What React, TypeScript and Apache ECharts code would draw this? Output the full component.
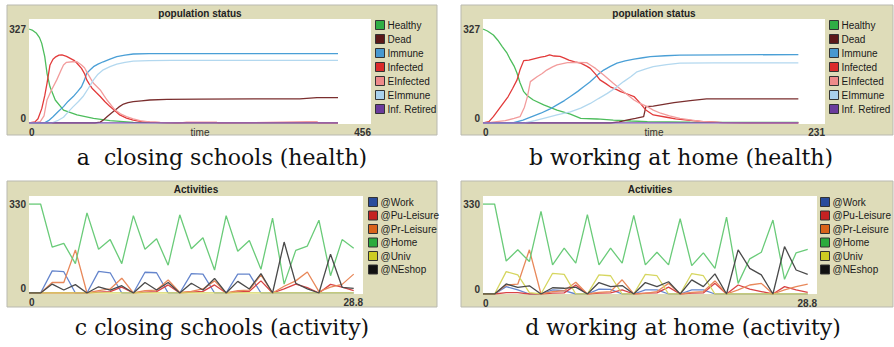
import React, { useEffect, useRef } from "react";
import * as echarts from "echarts";

// ---------- Panel a: closing schools (health), time 0..456 ----------
const healthyA = [[0,327],[5,322],[10,312],[14,297],[17,277],[21,231],[24,173],[28,126],[35,80],[46,45],[64,28],[86,16],[108,8],[139,2],[170,1],[200,0],[412,0]];
const deadA = [[0,0],[88,0],[95,3],[100,12],[104,22],[110,35],[115,45],[120,56],[126,66],[132,71],[139,74],[150,77],[161,80],[184,82],[228,83],[300,84],[361,84],[384,88],[412,88]];
const immuneA = [[0,0],[20,0],[26,8],[32,22],[39,40],[46,57],[52,75],[59,92],[65,110],[70,126],[74,150],[77,173],[82,186],[86,196],[92,205],[99,213],[108,222],[117,231],[128,236],[139,240],[160,241],[412,241]];
const infectedA = [[0,0],[8,4],[12,15],[17,50],[21,95],[24,138],[28,202],[32,222],[35,229],[40,236],[44,237],[50,232],[55,225],[60,218],[64,208],[70,190],[74,172],[77,150],[80,137],[84,121],[90,105],[95,92],[101,75],[108,57],[115,42],[121,28],[130,17],[139,10],[150,5],[161,3],[175,1],[200,0],[210,2],[250,2],[252,0],[370,3],[384,3],[386,0],[412,0]];
const einfectedA = [[0,0],[10,2],[15,5],[20,25],[24,80],[30,115],[37,150],[43,185],[46,202],[50,211],[58,213],[64,213],[70,202],[74,192],[77,178],[82,155],[86,138],[95,115],[100,95],[104,80],[110,60],[115,45],[122,32],[130,22],[139,14],[148,8],[160,4],[175,2],[200,0],[412,0]];
const eimmuneA = [[0,0],[30,0],[38,8],[46,20],[52,38],[59,57],[66,75],[72,92],[79,120],[86,150],[92,170],[99,185],[108,196],[117,205],[128,211],[139,215],[160,217],[190,218],[412,218]];
const retiredA = [[0,0],[412,0]];

// ---------- Panel b: working at home (health), time 0..231 ----------
const healthyB = [[0,327],[3,320],[7,306],[10,288],[13,266],[16,245],[18,225],[21,198],[23,173],[25,140],[27.5,109],[30,95],[34,80],[41,63],[50,45],[59,31],[66,16],[77,14],[88,10],[100,7],[111,5],[140,3],[213,2]];
const deadB = [[0,0],[86,0],[92,4],[97,10],[103,16],[108.5,22],[110,57],[115,59],[122,65],[129,71],[140,78],[151,84],[213,84]];
const immuneB = [[0,0],[20,0],[27,10],[33,22],[39,34],[45,48],[50,63],[55,78],[59,92],[64,110],[68,126],[72,142],[75,156],[78,170],[81.5,184],[86,197],[90.5,208],[96,216],[102,222],[108,227],[113,231],[123,234],[133,236],[163,237],[213,238]];
const infectedB = [[0,0],[4,5],[7,22],[12,57],[17,92],[20,120],[23,150],[25,185],[27.5,217],[31,219],[35,224],[39,229],[42,232],[45,237],[48,233],[52,232],[55,226],[58,219],[62,213],[66,208],[70,198],[72.5,190],[76,170],[79,150],[83,137],[86,126],[90,117],[93,109],[98,100],[102,92],[106,70],[110,45],[115,28],[124,20],[130,14],[138,10],[149,5],[162,1],[180,0],[213,0]];
const einfectedB = [[0,0],[5,2],[15,8],[21,16],[25,22],[28,55],[30,92],[32,144],[36.5,161],[40,172],[43,184],[47,195],[50,202],[57,210],[63,211],[70,210],[73,200],[76,190],[81.5,167],[88,138],[95,109],[102,80],[106,68],[111,57],[115,45],[120,34],[126,25],[133,16],[147,6],[160,1],[180,0],[213,0]];
const eimmuneB = [[0,0],[28,0],[35,8],[41,16],[50,28],[59,39],[66,52],[72.5,68],[78,85],[84,103],[90,124],[95,144],[100,162],[104,178],[110,188],[115,196],[124,203],[133,208],[156,209],[213,209]];
const retiredB = [[0,0],[213,0]];

// ---------- Panels c, d: activities, steps 0..28 ----------
const steps = [0,1,2,3,4,5,6,7,8,9,10,11,12,13,14,15,16,17,18,19,20,21,22,23,24,25,26,27,28];

const workC = [0,0,82,79,0,0,80,75,0,0,77,75,0,0,72,70,0,0,70,70,0,0,0,0,0,0,0,0,0];
const puLeisureC = [0,0,0,0,0,0,3,5,22,0,3,5,30,0,3,6,30,0,4,6,45,0,15,33,20,0,32,22,9];
const prLeisureC = [0,0,39,39,160,0,9,15,55,0,9,11,48,2,6,15,45,0,9,11,67,0,25,45,78,5,22,32,70];
const homeC = [330,330,170,184,109,297,162,198,109,287,162,201,103,290,164,205,85,287,155,195,88,278,33,158,174,270,64,198,166];
const univC = [0,0,0,0,0,0,0,0,0,0,0,0,0,0,0,0,0,0,0,0,0,0,0,0,0,0,0,0,0];
const neshopC = [0,0,33,11,31,0,23,11,27,0,39,11,39,0,36,11,54,0,43,15,72,0,189,36,15,0,144,21,17];

const workD = [0,0,27,15,0,0,15,12,0,0,18,17,0,0,15,15,0,0,15,15,0,0,0,0,0,0,0,0,0];
const puLeisureD = [0,0,5,5,0,0,3,4,33,0,3,4,15,0,3,4,25,0,3,4,39,0,33,18,9,0,27,15,6];
const prLeisureD = [0,0,33,36,162,0,9,12,43,0,6,9,52,0,2,9,39,0,6,9,48,0,15,33,39,0,15,27,36];
const homeD = [330,330,121,162,119,303,107,168,113,291,107,168,113,288,107,153,107,276,104,151,94,282,39,129,153,271,54,151,164];
const univD = [0,0,82,70,5,0,76,72,0,0,70,67,0,0,72,67,0,0,75,67,0,0,0,0,0,0,0,0,0];
const neshopD = [0,0,37,24,30,0,23,21,25,0,42,27,31,0,42,27,45,0,52,27,74,0,162,94,70,0,174,88,72];

// ---------- labels ----------
const healthNames = ["Healthy", "Dead", "Immune", "Infected", "EInfected", "EImmune", "Inf. Retired"];
const activityNames = ["@Work", "@Pu-Leisure", "@Pr-Leisure", "@Home", "@Univ", "@NEshop"];
const healthTitle = "population status";
const activityTitle = "Activities";
const captions = [
  "a  closing schools (health)",
  "b working at home (health)",
  "c closing schools (activity)",
  "d working at home (activity)",
];
const healthMaxY = 327;
const activityMaxY = 330;
const timeMaxA = 456;
const timeMaxB = 231;
const stepMax = 28.8;

// ---------- styles ----------
const healthLegendColors = ["#2fae45", "#5c1818", "#4798cf", "#dc2b2b", "#ee8a8a", "#a9d1ec", "#6a3b9c"];
const healthLineColors = ["#4dbd5c", "#7a2e2e", "#4a9fd6", "#e23a3a", "#f29c9c", "#b3d8ef", "#7d55ad"];
const activityLegendColors = ["#2a4c9c", "#c42222", "#d9631a", "#2bab3d", "#cccc22", "#111111"];
const activityLineColors = ["#6585cc", "#d84444", "#e8885a", "#6acb79", "#d6d660", "#4a4a4a"];

const FONT = "Liberation Sans";
const TAN = "#dedcb9";

function App() {
  const ref = useRef<HTMLDivElement>(null);

  useEffect(() => {
    const chart = echarts.init(ref.current!, null, { renderer: "svg" });

    const grids = [
      { left: 29, top: 29, width: 342, height: 94 },
      { left: 483, top: 29, width: 342, height: 94 },
      { left: 29, top: 204, width: 334, height: 89 },
      { left: 483, top: 204, width: 334, height: 90 },
    ];

    const labelStyle = { fontSize: 10, color: "#333", fontFamily: FONT, fontWeight: "bold" as const };

    const makeX = (i: number, max: number, name: string) => ({
      gridIndex: i,
      type: "value",
      min: 0,
      max,
      interval: max,
      name,
      nameLocation: "middle",
      nameGap: 4,
      nameMoveOverlap: false,
      nameTextStyle: { fontSize: 10, color: "#333", fontFamily: FONT, verticalAlign: "top" },
      axisLine: { show: false },
      axisTick: { show: false },
      splitLine: { show: false },
      axisLabel: { ...labelStyle, margin: 4, alignMinLabel: "left", alignMaxLabel: "right" },
    });
    const makeY = (i: number, max: number) => ({
      gridIndex: i,
      type: "value",
      min: 0,
      max,
      interval: max,
      axisLine: { show: false },
      axisTick: { show: false },
      splitLine: { show: false },
      axisLabel: { ...labelStyle, margin: 3, verticalAlignMinLabel: "bottom" },
    });

    const healthSets = [
      [healthyA, deadA, immuneA, infectedA, einfectedA, eimmuneA, retiredA],
      [healthyB, deadB, immuneB, infectedB, einfectedB, eimmuneB, retiredB],
    ];
    const activitySets = [
      [workC, puLeisureC, prLeisureC, homeC, univC, neshopC],
      [workD, puLeisureD, prLeisureD, homeD, univD, neshopD],
    ];

    const series: any[] = [];
    healthSets.forEach((set, p) => {
      set.forEach((data, k) => {
        series.push({
          type: "line",
          name: healthNames[k],
          xAxisIndex: p,
          yAxisIndex: p,
          data,
          showSymbol: false,
          symbol: "none",
          itemStyle: { color: healthLegendColors[k] },
          lineStyle: { color: healthLineColors[k], width: 1.3 },
        });
      });
    });
    activitySets.forEach((set, p) => {
      set.forEach((vals, k) => {
        series.push({
          type: "line",
          name: activityNames[k],
          xAxisIndex: p + 2,
          yAxisIndex: p + 2,
          data: steps.map((s, i) => [s, vals[i]]),
          showSymbol: false,
          symbol: "none",
          itemStyle: { color: activityLegendColors[k] },
          lineStyle: { color: activityLineColors[k], width: 1.3 },
        });
      });
    });

    const makeLegend = (left: number, top: number, names: string[], colors: string[], gap: number) => ({
      left,
      top,
      padding: 0,
      orient: "vertical",
      icon: "rect",
      itemWidth: 9,
      itemHeight: 9,
      itemGap: gap,
      selectedMode: false,
      textStyle: { fontSize: 10, color: "#1a1a1a", fontFamily: FONT, lineHeight: 10, padding: [0, 0, 0, -2] },
      data: names.map((n, k) => ({
        name: n,
        icon: "rect",
        itemStyle: { color: colors[k], borderColor: "#333", borderWidth: 1 },
      })),
    });

    const panelRect = (x: number, y: number, w: number, h: number) => ({
      type: "rect",
      z: -10,
      shape: { x, y, width: w, height: h },
      style: { fill: TAN, stroke: "#b9b9b0", lineWidth: 1 },
    });
    const plotRect = (x: number, y: number, w: number, h: number) => ({
      type: "rect",
      z: -9,
      shape: { x, y, width: w, height: h },
      style: { fill: "#ffffff" },
    });
    const title = (x: number, y: number, text: string) => ({
      type: "text",
      z: -8,
      x,
      y,
      style: { text, fontSize: 10, fontWeight: "bold", fontFamily: FONT, fill: "#222", align: "center", verticalAlign: "middle" },
    });
    const caption = (x: number, y: number, text: string) => ({
      type: "text",
      x,
      y,
      style: { text, fontSize: 22, fontFamily: "DejaVu Serif", fill: "#111", align: "center", verticalAlign: "middle" },
    });

    chart.setOption({
      animation: false,
      textStyle: { fontFamily: FONT },
      grid: grids,
      xAxis: [makeX(0, timeMaxA, "time"), makeX(1, timeMaxB, "time"), makeX(2, stepMax, ""), makeX(3, stepMax, "")],
      yAxis: [makeY(0, healthMaxY), makeY(1, healthMaxY), makeY(2, activityMaxY), makeY(3, activityMaxY)],
      legend: [
        makeLegend(375, 20, healthNames, healthLegendColors, 4),
        makeLegend(829, 20, healthNames, healthLegendColors, 4),
        makeLegend(368, 197, activityNames, activityLegendColors, 3.5),
        makeLegend(820, 197, activityNames, activityLegendColors, 3.5),
      ],
      graphic: [
        panelRect(7, 5, 430, 130),
        panelRect(461, 5, 432, 130),
        panelRect(7, 181, 430, 126),
        panelRect(461, 181, 432, 126),
        plotRect(29, 19, 342, 105),
        plotRect(483, 19, 342, 105),
        plotRect(29, 196, 334, 98),
        plotRect(483, 196, 334, 98),
        title(200, 13, healthTitle),
        title(654, 13, healthTitle),
        title(196, 189, activityTitle),
        title(650, 189, activityTitle),
        caption(222, 157, captions[0]),
        caption(681, 157, captions[1]),
        caption(222, 327, captions[2]),
        caption(683, 327, captions[3]),
      ],
      series,
    });

    return () => chart.dispose();
  }, []);

  return <div ref={ref} style={{ position: "absolute", left: 0, top: 0, width: 894, height: 347 }} />;
}

export default App;
